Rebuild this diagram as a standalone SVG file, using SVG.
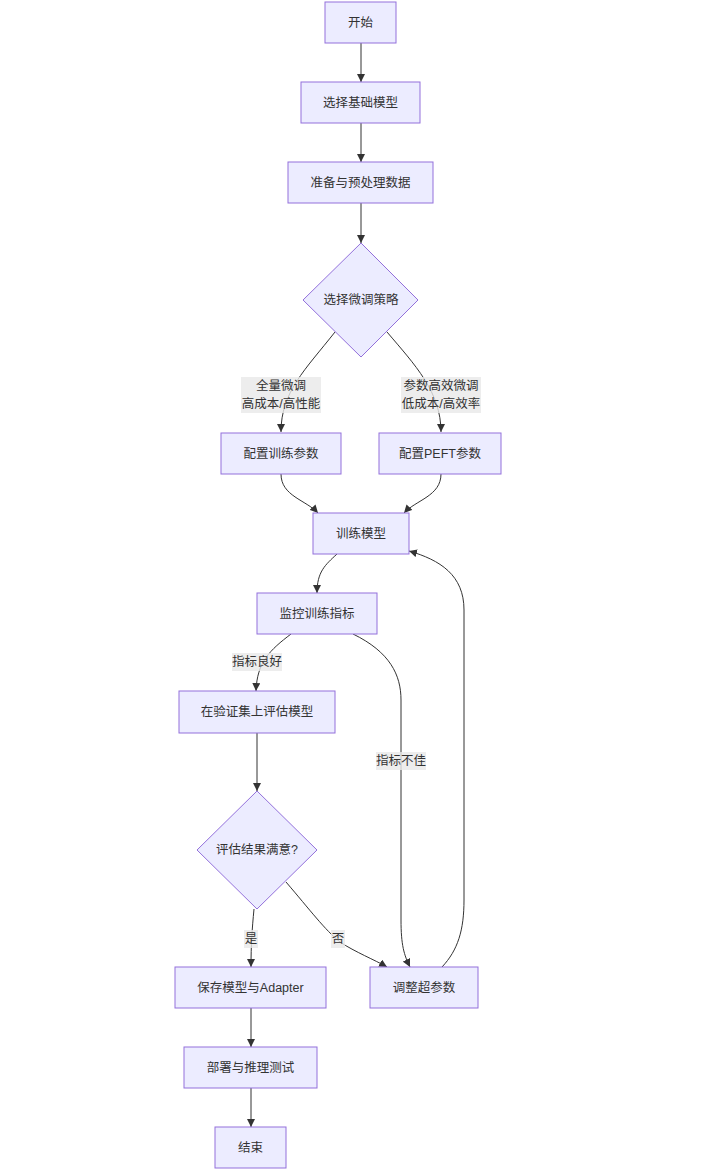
<svg xmlns="http://www.w3.org/2000/svg" width="707" height="1175" viewBox="0 0 707 1175">
<style>
.n{fill:#ECECFF;stroke:#9370DB;stroke-width:1}
.t{font-family:"Liberation Sans","Noto Sans CJK SC",sans-serif;font-size:12.5px;fill:#333;text-anchor:middle;dominant-baseline:central}
.e{fill:none;stroke:#333;stroke-width:1}
.lb{fill:#E8E8E8;fill-opacity:0.8}
</style>
<defs>
<marker id="arr" viewBox="0 0 10 10" refX="10" refY="5" markerWidth="8" markerHeight="8" markerUnits="userSpaceOnUse" orient="auto">
<path d="M0,0 L10,5 L0,10 z" fill="#333"/>
</marker>
</defs>
<rect width="707" height="1175" fill="#fff"/>
<g id="edges">
<path class="e" marker-end="url(#arr)" d="M361,43 L361,82"/>
<path class="e" marker-end="url(#arr)" d="M361,123 L361,162"/>
<path class="e" marker-end="url(#arr)" d="M361,203 L361,243"/>
<path class="e" marker-end="url(#arr)" d="M335,332 C305,370 281,392 281,432"/>
<path class="e" marker-end="url(#arr)" d="M387,332 C415,365 441,392 441,432"/>
<path class="e" marker-end="url(#arr)" d="M281,474 C281,496 306,500 318,513"/>
<path class="e" marker-end="url(#arr)" d="M441,474 C441,496 416,500 404,513"/>
<path class="e" marker-end="url(#arr)" d="M337,554 C325,565 317,572 317,593"/>
<path class="e" marker-end="url(#arr)" d="M291,634 C270,650 257,662 256,691"/>
<path class="e" marker-end="url(#arr)" d="M353,634 C390,652 401,675 401,700 L401,920 C401,945 404,955 410,967"/>
<path class="e" marker-end="url(#arr)" d="M442,967 C458,950 464,930 464,900 L464,610 C464,575 440,560 409,551"/>
<path class="e" marker-end="url(#arr)" d="M257,733 L257,791"/>
<path class="e" marker-end="url(#arr)" d="M254,909 C252,930 251,945 251,967"/>
<path class="e" marker-end="url(#arr)" d="M286,882 C310,910 325,930 340,942 C355,952 375,960 387,967"/>
<path class="e" marker-end="url(#arr)" d="M251,1008 L251,1047"/>
<path class="e" marker-end="url(#arr)" d="M251,1088 L251,1127"/>
</g>
<g id="edge-labels">
<g id="lbl-full"><rect class="lb" x="241" y="377" width="80" height="36"/><text class="t" x="281" y="386">全量微调</text><text class="t" x="281" y="404">高成本/高性能</text></g>
<g id="lbl-peft"><rect class="lb" x="401" y="377" width="80" height="36"/><text class="t" x="441" y="386">参数高效微调</text><text class="t" x="441" y="404">低成本/高效率</text></g>
<g id="lbl-good"><rect class="lb" x="232" y="653" width="50" height="18"/><text class="t" x="257" y="662">指标良好</text></g>
<g id="lbl-bad"><rect class="lb" x="376" y="752" width="50" height="18"/><text class="t" x="401" y="761">指标不佳</text></g>
<g id="lbl-yes"><rect class="lb" x="244" y="930" width="14" height="18"/><text class="t" x="251" y="939">是</text></g>
<g id="lbl-no"><rect class="lb" x="331" y="930" width="14" height="18"/><text class="t" x="338" y="939">否</text></g>
</g>
<g id="start"><rect class="n" x="325" y="2" width="71" height="41"/><text class="t" x="360.5" y="22.5">开始</text></g>
<g id="selectModel"><rect class="n" x="301" y="82" width="119" height="41"/><text class="t" x="360.5" y="102.5">选择基础模型</text></g>
<g id="prepData"><rect class="n" x="288" y="162" width="145" height="41"/><text class="t" x="360.5" y="182.5">准备与预处理数据</text></g>
<g id="strategy"><polygon class="n" points="361,243 418,300 361,357 303,300"/><text class="t" x="361" y="300">选择微调策略</text></g>
<g id="cfgTrain"><rect class="n" x="221" y="433" width="120" height="41"/><text class="t" x="281" y="453.5">配置训练参数</text></g>
<g id="cfgPeft"><rect class="n" x="379" y="433" width="122" height="41"/><text class="t" x="440" y="453.5">配置PEFT参数</text></g>
<g id="train"><rect class="n" x="313" y="513" width="96" height="41"/><text class="t" x="361" y="533.5">训练模型</text></g>
<g id="monitor"><rect class="n" x="257" y="593" width="120" height="41"/><text class="t" x="317" y="613.5">监控训练指标</text></g>
<g id="evaluate"><rect class="n" x="179" y="691" width="156" height="42"/><text class="t" x="257" y="712">在验证集上评估模型</text></g>
<g id="satisfied"><polygon class="n" points="257,791 317,850 257,909 197,850"/><text class="t" x="257" y="850">评估结果满意?</text></g>
<g id="save"><rect class="n" x="175" y="967" width="151" height="41"/><text class="t" x="250.5" y="987.5">保存模型与Adapter</text></g>
<g id="tune"><rect class="n" x="370" y="967" width="108" height="41"/><text class="t" x="424" y="987.5">调整超参数</text></g>
<g id="deploy"><rect class="n" x="184" y="1047" width="133" height="41"/><text class="t" x="250.5" y="1067.5">部署与推理测试</text></g>
<g id="end"><rect class="n" x="215" y="1127" width="71" height="41"/><text class="t" x="250.5" y="1147.5">结束</text></g>
</svg>
